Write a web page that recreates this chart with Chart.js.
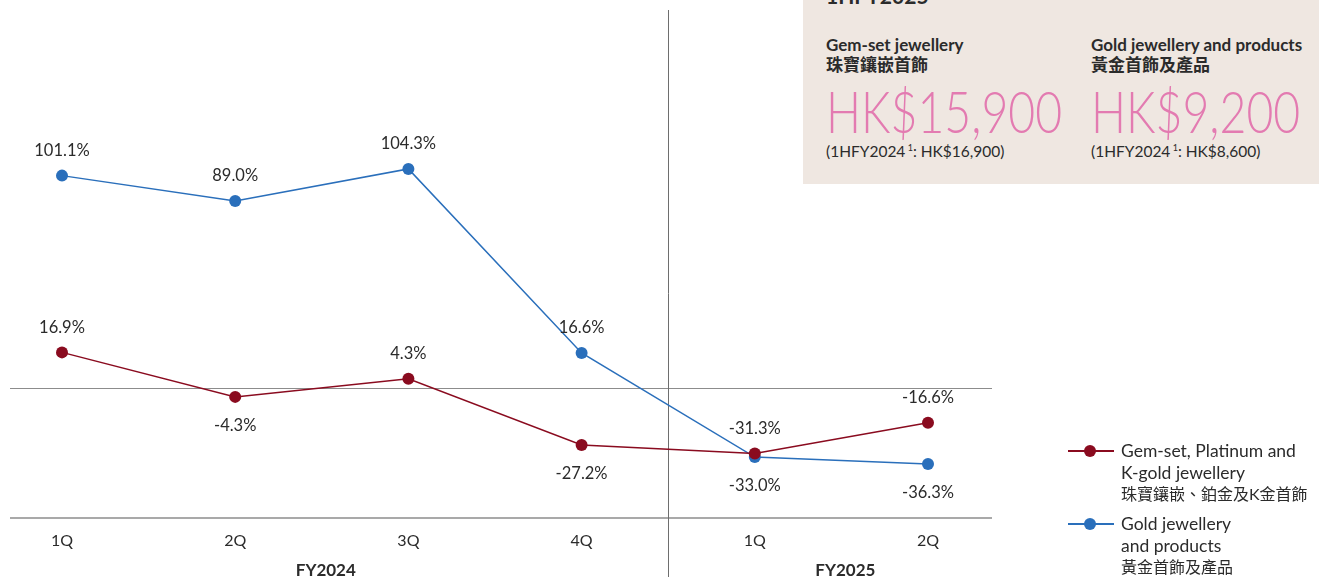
<!DOCTYPE html>
<html>
<head>
<meta charset="utf-8">
<script src="https://cdn.jsdelivr.net/npm/chart.js@4"></script>
<style>
  body { margin:0; width:1319px; height:577px; overflow:hidden; background:#fff; font-family:Lato, "Noto Sans CJK TC", sans-serif; color:#2b2b2b; }
  #wrap { position:relative; width:1319px; height:577px; }
  canvas { position:absolute; left:0; top:0; }
  .box { position:absolute; left:803px; top:0; width:516px; height:184px; background:#efe7e1; }
  .box .period { position:absolute; left:23px; top:-17px; font-weight:700; font-size:21px; }
  .col { position:absolute; top:35px; }
  .col .t { font-weight:700; font-size:17px; line-height:20px; white-space:nowrap; }
  .col .big { font-weight:300; font-size:58px; color:#e37bb1; line-height:60px; margin-top:6px; white-space:nowrap;
              transform:scaleX(0.8); transform-origin:left center; }
  .col .prev { font-size:15.5px; margin-top:1px; white-space:nowrap; }
  .col .prev sup { font-size:9px; }
  .legend { position:absolute; left:1068px; font-size:17.5px; line-height:21.5px; }
  .legend .ln { position:absolute; left:0; top:10px; width:46px; height:2px; }
  .legend .dot { position:absolute; left:16px; top:5px; width:12px; height:12px; border-radius:50%; }
  .legend .txt { position:absolute; left:53px; top:0; white-space:nowrap; }
  .legend .zh { font-size:16px; }
</style>
</head>
<body>
<div id="wrap">
  <canvas id="chart" width="1319" height="577"></canvas>
  <div class="box">
    <div class="period">1HFY2025</div>
    <div class="col" style="left:23px">
      <div class="t">Gem-set jewellery<br>珠寶鑲嵌首飾</div>
      <div class="big">HK$15,900</div>
      <div class="prev">(1HFY2024<sup> 1</sup>: HK$16,900)</div>
    </div>
    <div class="col" style="left:288px">
      <div class="t">Gold jewellery and products<br>黃金首飾及產品</div>
      <div class="big">HK$9,200</div>
      <div class="prev">(1HFY2024<sup> 1</sup>: HK$8,600)</div>
    </div>
  </div>
  <div class="legend" style="top:440px">
    <div class="ln" style="background:#8a0b1f"></div><div class="dot" style="background:#8a0b1f"></div>
    <div class="txt">Gem-set, Platinum and<br>K-gold jewellery<br><span class="zh">珠寶鑲嵌、鉑金及K金首飾</span></div>
  </div>
  <div class="legend" style="top:513px">
    <div class="ln" style="background:#2a6fbb"></div><div class="dot" style="background:#2a6fbb"></div>
    <div class="txt">Gold jewellery<br>and products<br><span class="zh">黃金首飾及產品</span></div>
  </div>
</div>
<script>
// data
const quarters = ['1Q', '2Q', '3Q', '4Q', '1Q', '2Q'];
const years = ['FY2024', 'FY2024', 'FY2024', 'FY2024', 'FY2025', 'FY2025'];
const gemSet = [16.9, -4.3, 4.3, -27.2, -31.3, -16.6];
const goldJewellery = [101.1, 89.0, 104.3, 16.6, -33.0, -36.3];
// where each value label sits relative to its point
const gemLabelPos = ['up', 'down', 'up', 'down', 'up', 'up'];
const goldLabelPos = ['up', 'up', 'up', 'up', 'down', 'down'];

const RED = '#8a0b1f', BLUE = '#2a6fbb';

const decor = {
  id: 'decor',
  beforeDatasetsDraw(chart) {
    const { ctx, scales: { x, y }, chartArea } = chart;
    ctx.save();
    // zero line
    ctx.strokeStyle = '#8c8c8c'; ctx.lineWidth = 1;
    const y0 = Math.round(y.getPixelForValue(0)) + 0.5;
    ctx.beginPath(); ctx.moveTo(10, y0); ctx.lineTo(992, y0); ctx.stroke();
    // base line
    ctx.strokeStyle = '#8c8c8c'; ctx.lineWidth = 1.5;
    ctx.beginPath(); ctx.moveTo(10, chartArea.bottom); ctx.lineTo(992, chartArea.bottom); ctx.stroke();
    // year divider
    const xd = Math.round((x.getPixelForValue(3) + x.getPixelForValue(4)) / 2) + 0.5;
    ctx.strokeStyle = '#6e6e6e'; ctx.lineWidth = 1;
    ctx.beginPath(); ctx.moveTo(xd, chartArea.top); ctx.lineTo(xd, 577); ctx.stroke();
    // year labels
    ctx.fillStyle = '#2b2b2b';
    ctx.font = '700 17px Lato';
    ctx.textAlign = 'center'; ctx.textBaseline = 'middle';
    [...new Set(years)].forEach(yr => {
      const idx = years.map((v, i) => v === yr ? i : -1).filter(i => i >= 0);
      const cx = (x.getPixelForValue(idx[0]) + x.getPixelForValue(idx[idx.length - 1])) / 2;
      ctx.fillText(yr, cx + 4, 571);
    });
    ctx.restore();
  },
  afterDatasetsDraw(chart) {
    const { ctx } = chart;
    const positions = [gemLabelPos, goldLabelPos];
    ctx.save();
    ctx.fillStyle = '#2b2b2b';
    ctx.font = '16.5px Lato';
    ctx.textAlign = 'center'; ctx.textBaseline = 'middle';
    chart.data.datasets.forEach((ds, di) => {
      chart.getDatasetMeta(di).data.forEach((pt, i) => {
        const up = positions[di][i] === 'up';
        const dy = up ? -25 : 29;
        ctx.fillText(ds.data[i].toFixed(1) + '%', pt.x, pt.y + dy);
      });
    });
    ctx.restore();
  }
};

new Chart(document.getElementById('chart'), {
  type: 'line',
  data: {
    labels: quarters,
    datasets: [
      { label: 'Gem-set, Platinum and K-gold jewellery', data: gemSet, borderColor: RED, backgroundColor: RED,
        borderWidth: 1.5, pointRadius: 6, pointBorderWidth: 0, clip: false, tension: 0 },
      { label: 'Gold jewellery and products', data: goldJewellery, borderColor: BLUE, backgroundColor: BLUE,
        borderWidth: 1.5, pointRadius: 6, pointBorderWidth: 0, clip: false, tension: 0 }
    ]
  },
  options: {
    responsive: false,
    animation: false,
    layout: { padding: { left: 62, right: 391, top: 10, bottom: 0 } },
    plugins: { legend: { display: false }, tooltip: { enabled: false } },
    scales: {
      x: {
        offset: false,
        grid: { display: false, drawTicks: false },
        border: { display: false },
        ticks: { color: '#2b2b2b', font: { family: 'Lato', size: 16 }, padding: 13, maxRotation: 0, autoSkip: false },
        afterFit(s) { s.height = 59; }
      },
      y: { display: false, min: -62, max: 180 }
    }
  },
  plugins: [decor]
});
</script>
</body>
</html>
